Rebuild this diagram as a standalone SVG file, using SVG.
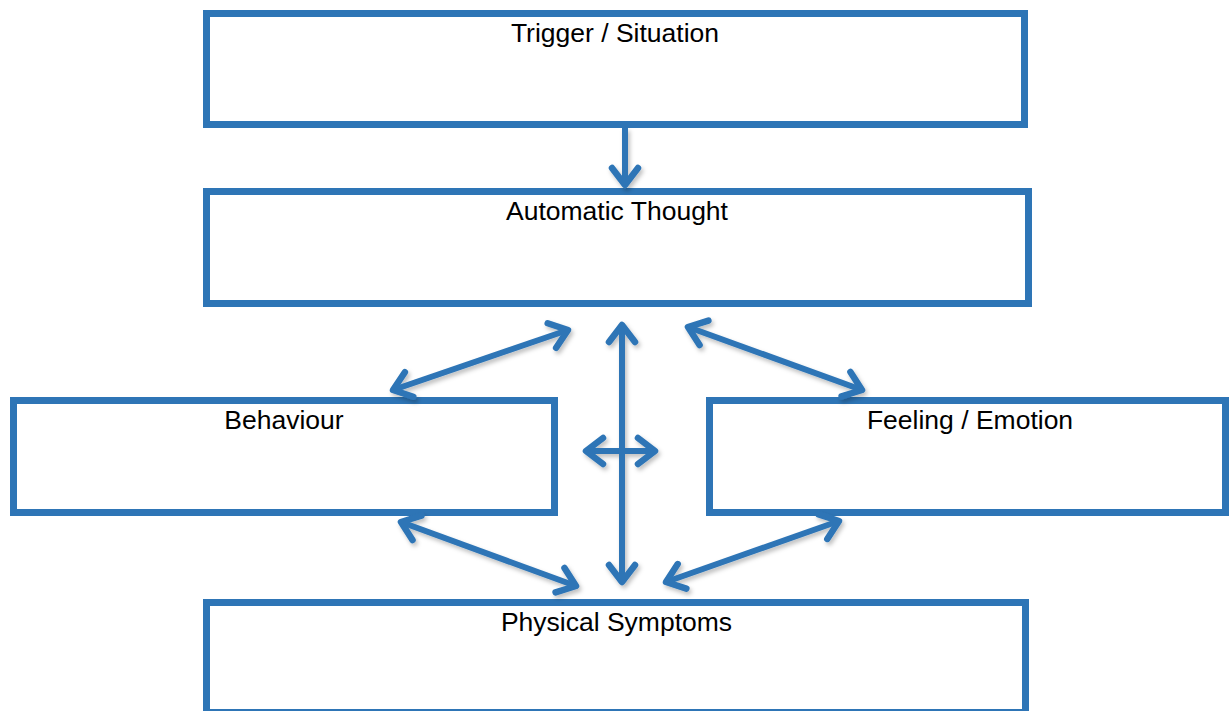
<svg xmlns="http://www.w3.org/2000/svg" width="1231" height="711" viewBox="0 0 1231 711">
<style>
.box{fill:#fff;stroke:#2E75B6;stroke-width:7}
.lbl{font-family:"Liberation Sans",Arial,sans-serif;font-size:26.5px;fill:#000;text-anchor:middle}
.arr{stroke:#2E75B6;stroke-width:6;fill:none;stroke-linecap:butt}
</style>
<defs>
<marker id="ah" markerUnits="userSpaceOnUse" viewBox="-30 -20 40 40" refX="0" refY="0" markerWidth="40" markerHeight="40" orient="auto-start-reverse" overflow="visible">
<path d="M-17,-13 L0,0 L-17,13" fill="none" stroke="#2E75B6" stroke-width="6.5" stroke-linecap="round" stroke-linejoin="round"/>
</marker>
<filter id="sh" x="-20%" y="-20%" width="140%" height="140%">
<feDropShadow dx="2" dy="3" stdDeviation="2" flood-color="#000" flood-opacity="0.25"/>
</filter>
</defs>
<g id="n-trigger"><rect class="box" x="206.5" y="13.5" width="818" height="111"/><text class="lbl" x="615" y="42">Trigger / Situation</text></g>
<g id="n-thought"><rect class="box" x="206.5" y="191.5" width="822" height="112"/><text class="lbl" x="617" y="220">Automatic Thought</text></g>
<g id="n-behaviour"><rect class="box" x="13.5" y="400.5" width="541" height="112"/><text class="lbl" x="284" y="429">Behaviour</text></g>
<g id="n-feeling"><rect class="box" x="709.5" y="400.5" width="516" height="112"/><text class="lbl" x="970" y="429">Feeling / Emotion</text></g>
<g id="n-physical"><rect class="box" x="206.5" y="602.5" width="819" height="110"/><text class="lbl" x="616.5" y="631">Physical Symptoms</text></g>
<g id="connectors" filter="url(#sh)">
<line class="arr" x1="625" y1="128" x2="625" y2="185" marker-end="url(#ah)"/>
<line class="arr" x1="622" y1="325" x2="622" y2="582" marker-start="url(#ah)" marker-end="url(#ah)"/>
<line class="arr" x1="586" y1="451" x2="655" y2="451" marker-start="url(#ah)" marker-end="url(#ah)"/>
<line class="arr" x1="568" y1="330" x2="393" y2="390" marker-start="url(#ah)" marker-end="url(#ah)"/>
<line class="arr" x1="688" y1="327" x2="862" y2="390" marker-start="url(#ah)" marker-end="url(#ah)"/>
<line class="arr" x1="401" y1="522" x2="576" y2="586" marker-start="url(#ah)" marker-end="url(#ah)"/>
<line class="arr" x1="839" y1="521" x2="666" y2="582" marker-start="url(#ah)" marker-end="url(#ah)"/>
</g>
</svg>
